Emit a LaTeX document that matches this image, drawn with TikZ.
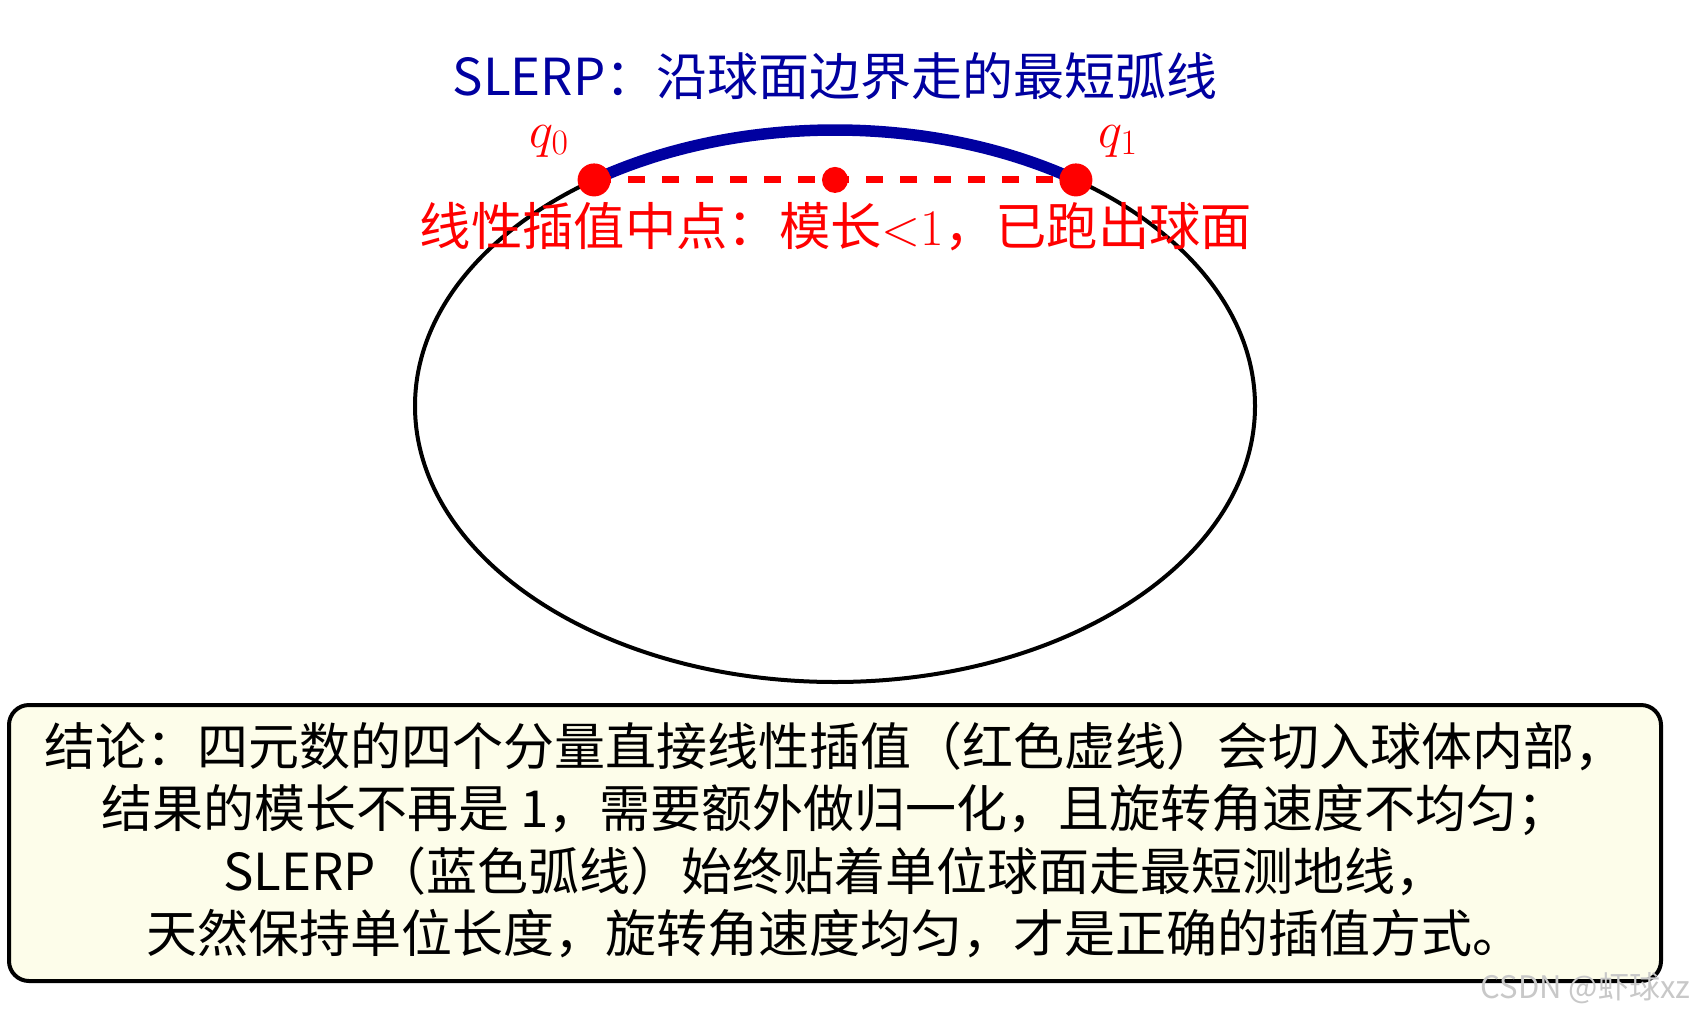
\RequirePackage{fix-cm}
\documentclass[tikz,border=0pt]{standalone}
\usepackage{fontspec}
\setmainfont{Noto Sans CJK SC}
\usetikzlibrary{calc}
\definecolor{slerpblue}{RGB}{0,0,160}
\definecolor{boxfill}{RGB}{253,253,234}
\definecolor{wmgray}{RGB}{200,200,200}
\tikzset{
  sphere/.style={draw=black,line width=4pt},
  slerparc/.style={draw=slerpblue,line width=11.5pt},
  lerpline/.style={draw=red,line width=7pt,dash pattern=on 17pt off 17pt},
  qdot/.style={circle,fill=red,inner sep=0pt,minimum size=33pt},
  middot/.style={circle,fill=red,inner sep=0pt,minimum size=26pt},
  qlabel/.style={text=red,font=\fontsize{51}{60}\selectfont},
  titletext/.style={text=slerpblue,font=\fontsize{51}{62}\selectfont},
  redtext/.style={text=red,font=\fontsize{51.3}{62}\selectfont},
  conclusion/.style={draw=black,line width=4pt,fill=boxfill,rounded corners=20pt,
    minimum width=1652pt,minimum height=276pt,inner sep=0pt},
  boxtext/.style={align=center,font=\fontsize{51}{62.5}\selectfont},
  watermark/.style={text=wmgray,font=\fontsize{31}{34}\selectfont}
}
\begin{document}
\begin{tikzpicture}[x=1pt,y=1pt]
\useasboundingbox (0,0) rectangle (1697,-1018);
\fill[white] (0,0) rectangle (1697,-1018);
% sphere
\coordinate (c) at (835,-406);
\draw[sphere] (c) ellipse [x radius=420pt, y radius=276pt];
% endpoints on the sphere boundary
\coordinate (p0) at ($(c)+(125:420pt and 276pt)$);
\coordinate (p1) at ($(c)+(55:420pt and 276pt)$);
\coordinate (pm) at ($(p0)!0.5!(p1)$);
% SLERP arc
\draw[slerparc] (p0) arc[start angle=125, end angle=55, x radius=420pt, y radius=276pt];
% linear interpolation
\draw[lerpline] (p0) -- (p1);
\node[qdot] (q0) at (p0) {};
\node[qdot] (q1) at (p1) {};
\node[middot] (qm) at (pm) {};
\node[qlabel] (l0) at (549,-141) {$q_0$};
\node[qlabel] (l1) at (1118,-141) {$q_1$};
% titles
\node[titletext] (title) at (835,-76) {SLERP：沿球面边界走的最短弧线};
\node[redtext] (lerp) at (836,-227) {线性插值中点：模长${<}1$，已跑出球面};
% conclusion box
\node[conclusion] (box) at (835,-843) {};
\node[boxtext] (boxt) at (835,-840) {结论：四元数的四个分量直接线性插值（红色虚线）会切入球体内部，\\
结果的模长不再是 1，需要额外做归一化，且旋转角速度不均匀；\\
SLERP（蓝色弧线）始终贴着单位球面走最短测地线，\\
天然保持单位长度，旋转角速度均匀，才是正确的插值方式。};
\node[watermark,anchor=east] (wm) at (1694,-988) {CSDN @虾球xz};
\end{tikzpicture}
\end{document}
